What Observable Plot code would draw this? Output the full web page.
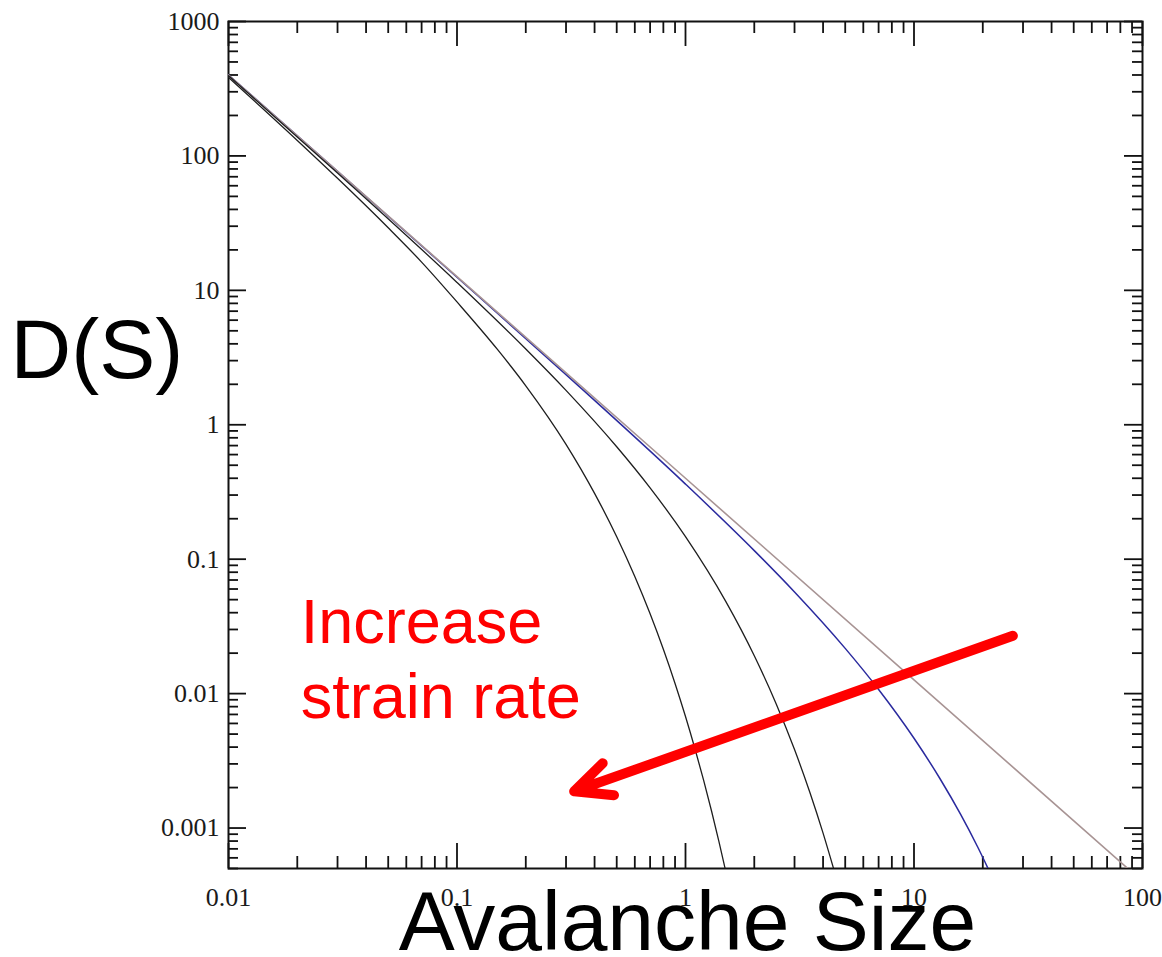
<!DOCTYPE html>
<html><head><meta charset="utf-8">
<script src="https://cdn.jsdelivr.net/npm/d3@7"></script>
<script src="https://cdn.jsdelivr.net/npm/@observablehq/plot@0.6"></script>
<style>body{margin:0;background:#fff} #chart svg{display:block}</style>
</head><body><div id="chart"></div>
<script>
// ---- axes / ticks ----
const xDomain = [0.01, 100];
const yDomain = [0.0005, 1000];
const xTicks = [0.01, 0.1, 1, 10, 100];
const xTickLabels = ["0.01", "0.1", "1", "10", "100"];
const yTicks = [0.001, 0.01, 0.1, 1, 10, 100, 1000];
const yTickLabels = ["0.001", "0.01", "0.1", "1", "10", "100", "1000"];
const xTitle = "Avalanche Size";
const yTitle = "D(S)";

// ---- series (avalanche size S, distribution D(S)) ----
const powerS = [0.01, 0.1, 1, 10, 90];
const powerD = [400, 12.65, 0.4, 0.01265, 0.000469];
const blueS = [0.01, 0.03, 0.1, 0.3, 1, 2, 3, 5, 7, 10, 13, 16, 19, 22];
const blueD = [399.6, 76.75, 12.52, 2.362, 0.362, 0.1158, 0.05703, 0.0217, 0.01073, 0.004654, 0.002326, 0.001262, 0.0007225, 0.0004295];
const midS = [0.01, 0.03, 0.1, 0.2, 0.3, 0.5, 0.7, 1, 1.5, 2, 2.5, 3, 3.5, 4, 4.5];
const midD = [396, 74.7, 11.45, 3.661, 1.803, 0.686, 0.3392, 0.1472, 0.04857, 0.01914, 0.008306, 0.003833, 0.001845, 0.000916, 0.0004655];
const leftS = [0.01, 0.02, 0.03, 0.05, 0.07, 0.1, 0.15, 0.2, 0.3, 0.4, 0.5, 0.6, 0.7, 0.8, 0.9, 1.0, 1.1, 1.2, 1.3, 1.4, 1.5];
const leftD = [384, 130.3, 68.11, 29.18, 16.23, 8.2, 3.65, 1.95, 0.7154, 0.3089, 0.1469, 0.07435, 0.03922, 0.02135, 0.0119, 0.006751, 0.00389, 0.00227, 0.001338, 0.000796, 0.000477];

// ---- annotation (data units) ----
const noteLines = ["Increase", "strain rate"];
const noteS = [0.0207, 0.0207];
const noteD = [0.02374, 0.00657];
const arrowFrom = [28.4, 0.0277];
const arrowTo = [0.3257, 0.001875];

// ---- build tables ----
const toRows = (S, D) => S.map((s, i) => ({S: s, D: D[i]}));
const isMajor = t => Math.abs(Math.log10(t) - Math.round(Math.log10(t))) < 1e-9;
const xMinor = d3.scaleLog().domain(xDomain).ticks().filter(t => !isMajor(t));
const yMinor = d3.scaleLog().domain(yDomain).ticks().filter(t => !isMajor(t) && t >= yDomain[0] && t <= yDomain[1]);
const notes = noteLines.map((t, i) => ({text: t, S: noteS[i], D: noteD[i]}));
const arrows = [{S1: arrowFrom[0], D1: arrowFrom[1], S2: arrowTo[0], D2: arrowTo[1]}];

const W = 1162, H = 957, ml = 228, mr = 20, mt = 21, mb = 89;
const fw = W - ml - mr, fh = H - mt - mb;
const tickColor = "#111";
const lbl = (ticks, labels) => d => labels[ticks.findIndex(t => Math.abs(t - d) < 1e-12 * Math.max(1, d))];

const chart = Plot.plot({
  width: W, height: H,
  marginLeft: ml, marginRight: mr, marginTop: mt, marginBottom: mb,
  style: {fontFamily: "Liberation Serif", fontSize: "26px", color: "#1a1a1a", background: "white"},
  x: {type: "log", domain: xDomain, axis: null},
  y: {type: "log", domain: yDomain, axis: null},
  marks: [
    // minor and major ticks (inward, all four sides)
    Plot.ruleX(xMinor, {insetTop: fh - 12, stroke: tickColor, strokeWidth: 1.8}),
    Plot.ruleX(xMinor, {insetBottom: fh - 12, stroke: tickColor, strokeWidth: 1.8}),
    Plot.ruleX(xTicks, {insetTop: fh - 25, stroke: tickColor, strokeWidth: 1.8}),
    Plot.ruleX(xTicks, {insetBottom: fh - 25, stroke: tickColor, strokeWidth: 1.8}),
    Plot.ruleY(yMinor, {insetRight: fw - 10, stroke: tickColor, strokeWidth: 1.8}),
    Plot.ruleY(yMinor, {insetLeft: fw - 10, stroke: tickColor, strokeWidth: 1.8}),
    Plot.ruleY(yTicks, {insetRight: fw - 18, stroke: tickColor, strokeWidth: 1.8}),
    Plot.ruleY(yTicks, {insetLeft: fw - 18, stroke: tickColor, strokeWidth: 1.8}),
    Plot.frame({stroke: tickColor, strokeWidth: 2}),
    // curves
    Plot.line(toRows(blueS, blueD), {x: "S", y: "D", stroke: "#2a2a9e", strokeWidth: 1.5, curve: "monotone-x", clip: true}),
    Plot.line(toRows(powerS, powerD), {x: "S", y: "D", stroke: "#a89494", strokeWidth: 1.6, clip: true}),
    Plot.line(toRows(midS, midD), {x: "S", y: "D", stroke: "#1e1e1e", strokeWidth: 1.3, curve: "monotone-x", clip: true}),
    Plot.line(toRows(leftS, leftD), {x: "S", y: "D", stroke: "#1e1e1e", strokeWidth: 1.3, curve: "monotone-x", clip: true}),
    // tick labels
    Plot.axisX(xTicks, {anchor: "bottom", tickSize: 0, tickPadding: 19, tickFormat: lbl(xTicks, xTickLabels), fontSize: 26, fontFamily: "Liberation Serif"}),
    Plot.axisY(yTicks, {anchor: "left", tickSize: 0, tickPadding: 9, tickFormat: lbl(yTicks, yTickLabels), fontSize: 26, fontFamily: "Liberation Serif"}),
    // axis titles
    Plot.text([xTitle], {frameAnchor: "bottom", lineAnchor: "bottom", textAnchor: "middle", dx: 2, dy: 81, fontSize: 84, fontFamily: "Liberation Sans", fill: "black"}),
    Plot.text([yTitle], {frameAnchor: "left", lineAnchor: "bottom", textAnchor: "start", dx: -218, dy: -67.5, fontSize: 84, fontFamily: "Liberation Sans", fill: "black"}),
    // annotation
    Plot.text(notes, {x: "S", y: "D", text: "text", lineAnchor: "bottom", textAnchor: "start", fontSize: 63, fontFamily: "Liberation Sans", fill: "#ff0000"}),
    Plot.arrow(arrows, {x1: "S1", y1: "D1", x2: "S2", y2: "D2", stroke: "#ff0000", strokeWidth: 10, headLength: 6, headAngle: 50, insetStart: 5, strokeLinecap: "round", strokeLinejoin: "round"})
  ]
});
document.getElementById("chart").appendChild(chart);
</script>
</body></html>
